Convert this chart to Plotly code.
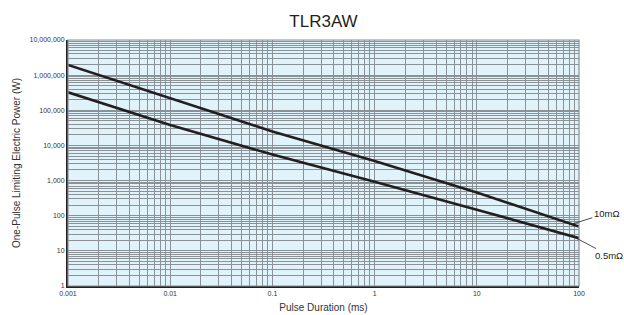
import numpy as np
import plotly.graph_objects as go

# ---- data ----
pulse_ms = [0.001, 0.01, 0.1, 1, 10, 100]
power_10mohm = [1.95e6, 2.25e5, 2.5e4, 3600, 455, 49]
power_05mohm = [3.25e5, 3.8e4, 5500, 930, 149, 23]
series_names = ["10mΩ", "0.5mΩ"]

x_tickvals = [0.001, 0.01, 0.1, 1, 10, 100]
x_ticktext = ["0.001", "0.01", "0.1", "1", "10", "100"]
y_tickvals = [1, 10, 100, 1000, 10000, 100000, 1000000, 10000000]
y_ticktext = ["1", "10", "100", "1,000", "10,000", "100,000", "1,000,000", "10,000,000"]

LINE = "#231f20"
GRID = "#8a9197"
BG = "#e0f2fa"
FONT = "Liberation Sans, Arial, sans-serif"


def minor_vals(lo_exp, hi_exp):
    return [k * 10.0 ** e for e in range(lo_exp, hi_exp) for k in range(2, 10)]


def interp_loglog(xq, xs, ys):
    return 10 ** np.interp(np.log10(xq), np.log10(xs), np.log10(ys))


fig = go.Figure()
for ys, name in zip([power_10mohm, power_05mohm], series_names):
    fig.add_trace(go.Scatter(x=pulse_ms, y=ys, mode="lines", name=name,
                             line=dict(color=LINE, width=2.6), showlegend=False))

# leader-line labels
lbl = [(85, power_10mohm, "10mΩ", 35, -11), (88, power_05mohm, "0.5mΩ", 36, 19)]
for xq, ys, txt, ax, ay in lbl:
    fig.add_annotation(x=np.log10(xq), y=np.log10(interp_loglog(xq, pulse_ms, ys)),
                       text=txt, showarrow=True, arrowhead=0, arrowwidth=0.8,
                       arrowcolor=LINE, ax=ax, ay=ay, xanchor="center",
                       font=dict(family=FONT, size=9.5, color="#231f20"))

fig.add_shape(type="rect", xref="paper", yref="paper", x0=0, y0=0, x1=1, y1=1,
              line=dict(color="#8a8f94", width=1.2), layer="above")

fig.update_layout(
    width=624, height=315,
    margin=dict(l=68, r=45, t=40, b=29, autoexpand=False),
    paper_bgcolor="white", plot_bgcolor=BG,
    title=dict(text="TLR3AW", x=0.5, xref="paper", xanchor="center",
               y=0.933, yanchor="middle",
               font=dict(family=FONT, size=17, color="#231f20")),
    font=dict(family=FONT, color="#231f20"),
)
fig.update_xaxes(
    type="log", range=[-3, 2], tickmode="array", tickvals=x_tickvals, ticktext=x_ticktext,
    tickfont=dict(size=7, color="#333"), ticks="", automargin=False,
    showgrid=True, gridcolor=GRID, gridwidth=1.3,
    minor=dict(tickmode="array", tickvals=minor_vals(-3, 2), showgrid=True,
               gridcolor=GRID, gridwidth=1, ticks=""),
    showline=True, linecolor="#231f20", linewidth=2,
    title=dict(text="Pulse Duration (ms)", font=dict(size=10, color="#333"), standoff=8),
    zeroline=False,
)
fig.update_yaxes(
    type="log", range=[0, 7], tickmode="array", tickvals=y_tickvals, ticktext=y_ticktext,
    tickfont=dict(size=7, color="#333"), ticks="", automargin=False,
    showgrid=True, gridcolor=GRID, gridwidth=1.3,
    minor=dict(tickmode="array", tickvals=minor_vals(0, 7), showgrid=True,
               gridcolor=GRID, gridwidth=1, ticks=""),
    showline=True, linecolor="#231f20", linewidth=2,
    title=dict(text="One-Pulse Limiting Electric Power (W)", font=dict(size=10, color="#333"),
               standoff=7),
    zeroline=False,
)

fig.write_html("out.html", config={"displayModeBar": False},
               post_script="document.body.style.margin='0';document.body.style.overflow='hidden';")
